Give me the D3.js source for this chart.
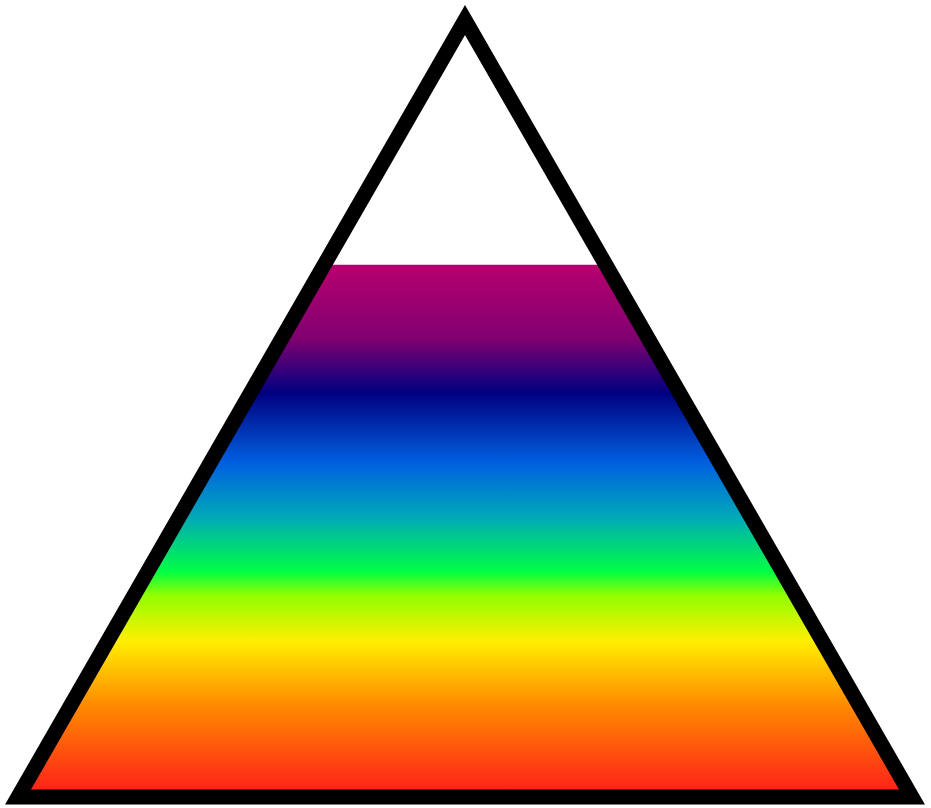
<!DOCTYPE html>
<html>
<head>
<meta charset="utf-8">
<script src="https://cdn.jsdelivr.net/npm/d3@7"></script>
<style>
  body { margin: 0; background: #fff; }
</style>
</head>
<body>
<svg id="chart" width="931" height="808"></svg>
<script>
// gauge level (0..100) and the colour stops of the fill, bottom to top
var levelValue = 68.5;
var levelMax = 100;
var stopLevels = [0, 12, 20, 26, 29, 36, 43, 52, 59, 68.5];
var stopColors = ["#ff1a1a", "#ff8c00", "#ffee00", "#90ff00", "#00ff44",
                  "#00a8b8", "#0060e0", "#000080", "#800070", "#b8006e"];

var svg = d3.select("#chart");

var apex = [465, 20], left = [18, 797], right = [912, 797];

// vertical scale from bottom of the triangle up to the apex
var y = d3.scaleLinear().domain([0, levelMax]).range([left[1], apex[1]]);

var tri = d3.line()([apex, right, left]) + "Z";

var defs = svg.append("defs");
defs.append("clipPath").attr("id", "tri-clip")
  .append("path").attr("d", tri);

var grad = defs.append("linearGradient")
  .attr("id", "rainbow")
  .attr("gradientUnits", "userSpaceOnUse")
  .attr("x1", 0).attr("x2", 0)
  .attr("y1", y(0)).attr("y2", y(levelValue));

stopLevels.forEach(function (lv, i) {
  grad.append("stop")
    .attr("offset", lv / levelValue)
    .attr("stop-color", stopColors[i]);
});

// fill up to the current level
svg.append("rect")
  .attr("clip-path", "url(#tri-clip)")
  .attr("x", left[0])
  .attr("width", right[0] - left[0])
  .attr("y", y(levelValue))
  .attr("height", y(0) - y(levelValue))
  .attr("fill", "url(#rainbow)");

// outline
svg.append("path")
  .attr("d", tri)
  .attr("fill", "none")
  .attr("stroke", "#000")
  .attr("stroke-width", 15)
  .attr("stroke-linejoin", "miter");
</script>
</body>
</html>
